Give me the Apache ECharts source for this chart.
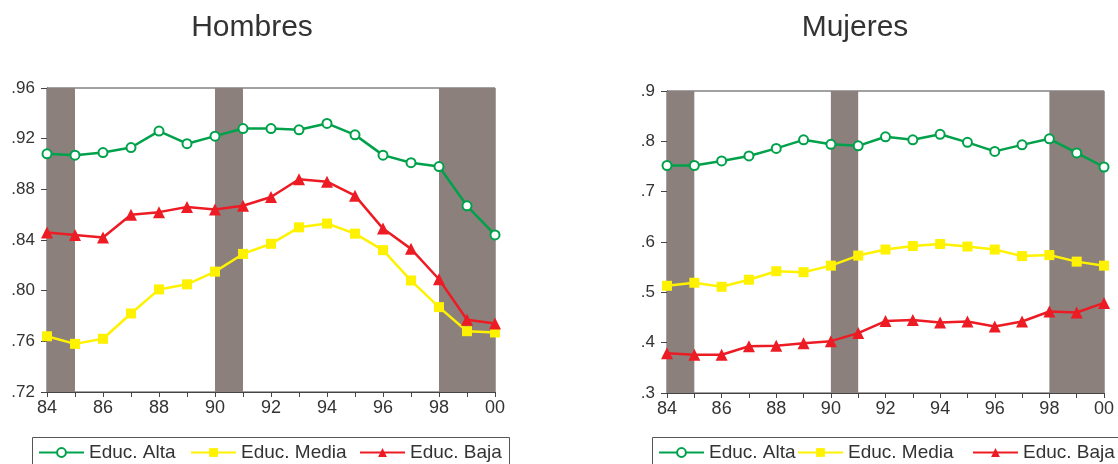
<!DOCTYPE html>
<html>
<head>
<meta charset="utf-8">
<script src="https://cdn.jsdelivr.net/npm/echarts@6/dist/echarts.min.js"></script>
<style>
html,body{margin:0;padding:0;background:#fff;}
#c{width:1118px;height:464px;}
</style>
</head>
<body>
<div id="c"></div>
<script>
// Years (x-axis tick labels)
var years = ['84','85','86','87','88','89','90','91','92','93','94','95','96','97','98','99','00'];
var seriesNames = ['Educ. Alta','Educ. Media','Educ. Baja'];

// Hombres
var hombresAlta  = [0.908,0.907,0.909,0.913,0.926,0.916,0.922,0.928,0.928,0.927,0.932,0.923,0.907,0.901,0.898,0.867,0.844];
var hombresMedia = [0.764,0.758,0.762,0.782,0.801,0.805,0.815,0.829,0.837,0.850,0.853,0.845,0.832,0.808,0.787,0.768,0.767];
var hombresBaja  = [0.846,0.844,0.842,0.860,0.862,0.866,0.864,0.867,0.874,0.888,0.886,0.875,0.849,0.833,0.809,0.777,0.774];

// Mujeres
var mujeresAlta  = [0.752,0.752,0.761,0.771,0.786,0.803,0.794,0.791,0.809,0.803,0.814,0.798,0.780,0.793,0.805,0.777,0.749];
var mujeresMedia = [0.513,0.519,0.511,0.525,0.542,0.540,0.553,0.573,0.585,0.592,0.596,0.591,0.585,0.572,0.574,0.561,0.553];
var mujeresBaja  = [0.379,0.376,0.376,0.393,0.394,0.399,0.403,0.419,0.443,0.445,0.440,0.442,0.432,0.442,0.462,0.460,0.479];

// Shaded periods
var shadedPeriods = [['84','85'],['90','91'],['98','00']];

var cGreen = '#00a14b', cYellow = '#fff200', cRed = '#ed1c24', cShade = '#8b807c';
var txt = '#333333', axc = '#444444';
var FONT = 'Liberation Sans, Arial, sans-serif';

function mkX(gi){
  return {
    type:'category', gridIndex:gi, data:years, boundaryGap:false,
    axisLine:{show:true,lineStyle:{color:axc,width:1}},
    axisTick:{show:true,interval:0,length:5,lineStyle:{color:axc}},
    axisLabel:{interval:1,color:txt,fontSize:18,fontFamily:FONT,margin:7},
    splitLine:{show:false}
  };
}
function mkY(gi,min,max,interval,dec){
  return {
    type:'value', gridIndex:gi, min:min, max:max, interval:interval,
    axisLine:{show:true,lineStyle:{color:axc,width:1}},
    axisTick:{show:true,length:6,lineStyle:{color:axc}},
    axisLabel:{color:txt,fontSize:17,fontFamily:FONT,margin:12,
      formatter:function(v){return v.toFixed(dec).replace(/^0/,'');}},
    splitLine:{show:false}
  };
}
function mkSeries(gi,name,data,color,symbol,size,withShade){
  var s = {
    type:'line', name:name, xAxisIndex:gi, yAxisIndex:gi, data:data,
    symbol:symbol, symbolSize:size, showAllSymbol:true,
    lineStyle:{color:color,width:2.5},
    itemStyle:{color:color,borderColor:color,borderWidth:symbol==='emptyCircle'?2:0},
    z:3, animation:false
  };
  if(withShade){
    s.markArea = {silent:true, itemStyle:{color:cShade,opacity:1}, z:1,
      data: shadedPeriods.map(function(p){return [{xAxis:p[0]},{xAxis:p[1]}];})};
  }
  return s;
}
function mkLegend(name,left){
  return {left:left,top:443,orient:'horizontal',itemWidth:45,itemHeight:11,padding:0,
    textStyle:{fontSize:19,color:txt,fontFamily:FONT},
    data:[{name:name}]};
}

var chart = echarts.init(document.getElementById('c'),null,{renderer:'canvas'});
chart.setOption({
  animation:false,
  backgroundColor:'#ffffff',
  textStyle:{fontFamily:FONT},
  title:[
    {text:'Hombres',left:247,top:8,textAlign:'center',textStyle:{fontSize:30,fontWeight:'normal',color:'#333333',fontFamily:FONT}},
    {text:'Mujeres',left:850,top:8,textAlign:'center',textStyle:{fontSize:30,fontWeight:'normal',color:'#333333',fontFamily:FONT}}
  ],
  graphic:[
    {type:'rect',shape:{x:32.5,y:437.5,width:477,height:40},style:{fill:'none',stroke:'#555',lineWidth:1},silent:true},
    {type:'rect',shape:{x:652.5,y:437.5,width:480,height:40},style:{fill:'none',stroke:'#555',lineWidth:1},silent:true}
  ],
  grid:[
    {left:47,top:88,width:448,height:304,show:true,borderColor:axc,borderWidth:1,backgroundColor:'transparent'},
    {left:667,top:91,width:437,height:302,show:true,borderColor:axc,borderWidth:1,backgroundColor:'transparent'}
  ],
  xAxis:[mkX(0),mkX(1)],
  yAxis:[mkY(0,0.72,0.96,0.04,2),mkY(1,0.3,0.9,0.1,1)],
  legend:[
    mkLegend(seriesNames[0],38), mkLegend(seriesNames[1],190), mkLegend(seriesNames[2],359),
    mkLegend(seriesNames[0],658), mkLegend(seriesNames[1],797), mkLegend(seriesNames[2],972)
  ],
  series:[
    mkSeries(0,seriesNames[0],hombresAlta,cGreen,'emptyCircle',9,true),
    mkSeries(0,seriesNames[1],hombresMedia,cYellow,'rect',10,false),
    mkSeries(0,seriesNames[2],hombresBaja,cRed,'triangle',12,false),
    mkSeries(1,seriesNames[0],mujeresAlta,cGreen,'emptyCircle',9,true),
    mkSeries(1,seriesNames[1],mujeresMedia,cYellow,'rect',10,false),
    mkSeries(1,seriesNames[2],mujeresBaja,cRed,'triangle',12,false)
  ]
});
</script>
</body>
</html>
